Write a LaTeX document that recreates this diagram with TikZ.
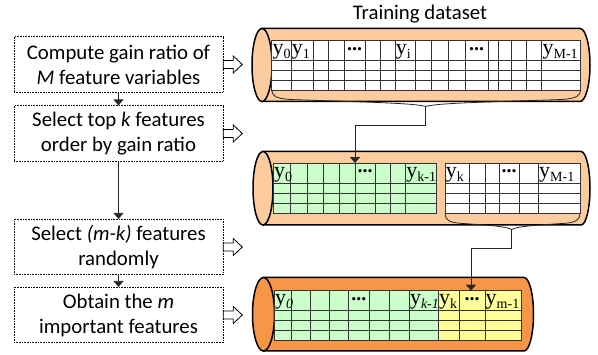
\documentclass[tikz,border=0pt]{standalone}
\usepackage{fontspec}
\setmainfont{Carlito}
\newfontfamily\serifY{Liberation Serif}
\usetikzlibrary{arrows.meta,calc}
\definecolor{lorange}{HTML}{FCCC9E}
\definecolor{dorange}{HTML}{F79646}
\definecolor{lgreen}{HTML}{CCFFCC}
\definecolor{lyellow}{HTML}{FFFF99}
\newcommand\yl[1]{{\serifY\fontsize{22}{22}\selectfont y\raisebox{-0.3ex}{\fontsize{14}{14}\selectfont #1}}}
\newcommand\ddd{{\serifY\fontsize{20}{20}\selectfont\textbf{...}}}
\tikzset{
  box/.style={draw, densely dotted, line width=0.6pt, minimum width=209pt, minimum height=55.5pt, inner sep=0pt, align=center, font=\fontsize{20.8}{25}\selectfont},
  flow/.style={draw=black!85, line width=0.8pt, -{Triangle[width=10pt,length=6pt]}},
  hollow/.style={draw=black, line width=0.8pt, fill=white},
  cylline/.style={draw=black, line width=1.5pt},
  grid/.style={draw=black!80, line width=0.8pt},
  lab/.style={anchor=base west, inner sep=0pt},
  dots/.style={anchor=base, inner sep=0pt},
  brace/.style={draw=black!85, line width=0.8pt},
  area/.style={inner sep=0pt, draw=none}
}
\begin{document}
\begin{tikzpicture}[x=1pt,y=-1pt]
\useasboundingbox (0,0) rectangle (598,355);

% ---- left process boxes
\node[box] (b1) at (118.5,64.5) {Compute gain ratio of\\\textit{M} feature variables};
\node[box] (b2) at (118.5,133.5) {Select top \textit{k} features\\order by gain ratio};
\node[box] (b3) at (118.5,247) {Select \textit{(m-k)} features\\randomly};
\node[box] (b4) at (118.5,315) {Obtain the \textit{m}\\important features};
\draw[flow] (b1.south) -- (b2.north);
\draw[flow] (b2.south) -- (b3.north);
\draw[flow] (b3.south) -- (b4.north);
\foreach \b in {b1,b2,b3,b4}{
  \draw[hollow] ($(\b.east)+(0,-4)$) -- ++(10,0) -- ++(0,-4.5) -- ++(9,8.5) -- ++(-9,8.5) -- ++(0,-4.5) -- ++(-10,0) -- cycle;
}

% ---- title
\node[font=\fontsize{20.8}{25}\selectfont, inner sep=0pt] (title) at (420,14) {Training dataset};

% ---- cylinder 1
\draw[cylline, fill=lorange] (262,28.5) -- (580,28.5) arc[start angle=-90,end angle=90,x radius=10,y radius=36.5] -- (262,101.5) -- cycle;
\draw[cylline, fill=lorange] (262,65) ellipse [x radius=10, y radius=36.5];
% table 1
\node[area, minimum width=309pt, minimum height=49.3pt] (t1) at (426.2,65.35) {};
\fill[white] (271.7,40.7) rectangle (580.7,90);
\foreach \yy in {60,70,80} \draw[grid] (271.7,\yy) -- (580.7,\yy);
\foreach \xx in {291,313.3,328.3,344,365,380,395,415.7,431.7,448.3,465,488.3,498.3,511.7,526.7,541.7} \draw[grid] (\xx,40.7) -- (\xx,90);
\draw[grid] (271.7,40.7) rectangle (580.7,90);
\node[lab] at (272.4,55) {\yl{0}};
\node[lab] at (291.7,55) {\yl{1}};
\node[dots] at (354.5,50.5) {\ddd};
\node[lab] at (395.7,55) {\yl{i}};
\node[dots] at (476.6,50.5) {\ddd};
\node[lab] at (542.4,55) {\yl{M-1}};
% brace 1
\coordinate (br1) at (425.7,106.5);
\draw[brace] (271.7,90) .. controls (272,96) and (276,98.5) .. (290,99.5) .. controls (360,102) and (415,103) .. (br1);
\draw[brace] (580.7,90) .. controls (580.4,96) and (576,98.5) .. (562,99.5) .. controls (490,102) and (436,103) .. (br1);

% ---- cylinder 2
\draw[cylline, fill=lorange] (263,151.5) -- (581,151.5) arc[start angle=-90,end angle=90,x radius=9,y radius=36.75] -- (263,225) -- cycle;
\draw[cylline, fill=lorange] (263,188.25) ellipse [x radius=10, y radius=36.75];
% table 2 green
\node[area, minimum width=163.4pt, minimum height=50pt] (t2g) at (355,188.3) {};
\fill[lgreen] (273.3,163.3) rectangle (436.7,213.3);
\foreach \yy in {183.3,193.3,203.3} \draw[grid] (273.3,\yy) -- (436.7,\yy);
\foreach \xx in {290.7,307.7,323.3,339.3,355,375,390.7,405.7} \draw[grid] (\xx,163.3) -- (\xx,213.3);
\draw[grid] (273.3,163.3) rectangle (436.7,213.3);
\node[lab] at (274,178) {\yl{0}};
\node[dots] at (365,173) {\ddd};
\node[lab] at (406.2,178) {\yl{k-1}};
% table 2 white
\node[area, minimum width=135pt, minimum height=50pt] (t2w) at (512.5,188.3) {};
\fill[white] (445,163.3) rectangle (580,213.3);
\foreach \yy in {183.3,193.3,203.3} \draw[grid] (445,\yy) -- (580,\yy);
\foreach \xx in {469,485,499,519.3,538.3} \draw[grid] (\xx,163.3) -- (\xx,213.3);
\draw[grid] (445,163.3) rectangle (580,213.3);
\node[lab] at (445.7,178) {\yl{k}};
\node[dots] at (509.2,173) {\ddd};
\node[lab] at (539,178) {\yl{M-1}};
% brace 2
\coordinate (br2) at (511.7,229.5);
\draw[brace] (445,213.3) .. controls (445,219.5) and (449,222.5) .. (460,223.3) .. controls (485,225) and (505,226) .. (br2);
\draw[brace] (580,213.3) .. controls (580,219.5) and (576,222.5) .. (565,223.3) .. controls (540,225) and (518,226) .. (br2);

% connector 1
\draw[flow] (br1) -- ++(0,19.2) -| (t2g.north);

% ---- cylinder 3
\draw[cylline, fill=dorange] (263.5,277.5) -- (524,277.5) arc[start angle=-90,end angle=90,x radius=9.5,y radius=36.75] -- (263.5,351) -- cycle;
\draw[cylline, fill=dorange] (263.5,314.25) ellipse [x radius=11, y radius=36.75];
% table 3
\node[area, minimum width=247.4pt, minimum height=49.3pt] (t3) at (398,315.35) {};
\fill[lgreen] (274.3,290.7) rectangle (438.3,340);
\fill[lyellow] (438.3,290.7) rectangle (521.7,340);
\foreach \yy in {310,320,330} \draw[grid] (274.3,\yy) -- (521.7,\yy);
\foreach \xx in {291.7,310.7,329.3,348.3,369.3,389.3,409.3,438.3,459.3,485} \draw[grid] (\xx,290.7) -- (\xx,340);
\draw[grid] (274.3,290.7) rectangle (521.7,340);
\node[lab] at (275,305) {\yl{\textit{0}}};
\node[dots] at (358.8,300.5) {\ddd};
\node[lab] at (409.8,305) {\yl{\textit{k-1}}};
\node[lab] at (438.8,305) {\yl{k}};
\node[dots] at (472.2,300.5) {\ddd};
\node[lab] at (485.5,305) {\yl{m-1}};
\coordinate (in3) at (471,290.7);

% connector 2
\draw[flow] (br2) -- ++(0,18.8) -| (in3);
\end{tikzpicture}
\end{document}
